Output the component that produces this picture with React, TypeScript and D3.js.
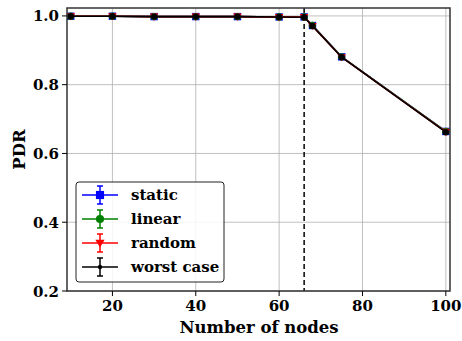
import React from "react";
import * as d3 from "d3";

const nodes = [10, 20, 30, 40, 50, 60, 66, 68, 75, 100];
const staticPdr = [0.999, 0.999, 0.998, 0.998, 0.998, 0.997, 0.997, 0.972, 0.881, 0.664];
const linearPdr = [0.999, 0.999, 0.998, 0.998, 0.998, 0.997, 0.997, 0.972, 0.881, 0.664];
const randomPdr = [0.999, 0.999, 0.998, 0.998, 0.998, 0.997, 0.997, 0.971, 0.880, 0.663];
const worstPdr = [0.999, 0.999, 0.998, 0.998, 0.998, 0.997, 0.996, 0.971, 0.880, 0.662];
const xTicks = [20, 40, 60, 80, 100];
const yTicks = [0.2, 0.4, 0.6, 0.8, 1.0];
const thresholdX = 66;
const seriesNames = ["static", "linear", "random", "worst case"];
const seriesColors = ["#0000ff", "#008000", "#ff0000", "#000000"];

const W = 462, H = 341;
const L = 67, R = 450, T = 8, B = 291;
const FONT = "'DejaVu Serif', serif";

export default function App() {
  const x = d3.scaleLinear().domain([9.1, 101]).range([L, R]);
  const y = d3.scaleLinear().domain([0.2, 1.023]).range([B, T]);
  const series = [staticPdr, linearPdr, randomPdr, worstPdr];
  const line = d3.line<number>().x((_, i) => x(nodes[i])).y((v) => y(v));

  const marker = (k: number, cx: number, cy: number, s = 1) => {
    const c = seriesColors[k];
    if (k === 0) return <rect x={cx - 3.7 * s} y={cy - 3.7 * s} width={7.4 * s} height={7.4 * s} fill={c} />;
    if (k === 1) return <circle cx={cx} cy={cy} r={3.7 * s} fill={c} />;
    if (k === 2) return <path d={`M${cx - 4.2 * s},${cy - 3 * s}L${cx + 4.2 * s},${cy - 3 * s}L${cx},${cy + 4.2 * s}Z`} fill={c} />;
    return <circle cx={cx} cy={cy} r={2 * s} fill={c} />;
  };

  return (
    <svg width={W} height={H} style={{ position: "absolute", left: 0, top: 0 }} fontFamily={FONT}>
      <rect width={W} height={H} fill="#fff" />
      {xTicks.map((t) => (
        <line key={"gx" + t} x1={x(t)} x2={x(t)} y1={T} y2={B} stroke="#b0b0b0" strokeWidth={0.8} />
      ))}
      {yTicks.map((t) => (
        <line key={"gy" + t} x1={L} x2={R} y1={y(t)} y2={y(t)} stroke="#b0b0b0" strokeWidth={0.8} />
      ))}
      <line x1={x(thresholdX)} x2={x(thresholdX)} y1={T} y2={B} stroke="#000" strokeWidth={1.5} strokeDasharray="5,3" />
      {series.map((s, k) => (
        <g key={k}>
          <path d={line(s) || ""} fill="none" stroke={seriesColors[k]} strokeWidth={1.6} />
          {s.map((v, i) => (
            <g key={i}>{marker(k, x(nodes[i]), y(v), k === 3 ? 1.6 : 1)}</g>
          ))}
        </g>
      ))}
      <rect x={L} y={T} width={R - L} height={B - T} fill="none" stroke="#333" strokeWidth={1.5} />
      {xTicks.map((t) => (
        <g key={"tx" + t}>
          <line x1={x(t)} x2={x(t)} y1={B} y2={B + 5} stroke="#000" strokeWidth={1} />
          <text x={x(t)} y={B + 20} textAnchor="middle" fontSize={15} fontWeight="bold">{t}</text>
        </g>
      ))}
      {yTicks.map((t) => (
        <g key={"ty" + t}>
          <line x1={L - 5} x2={L} y1={y(t)} y2={y(t)} stroke="#000" strokeWidth={1} />
          <text x={L - 8} y={y(t) + 5.5} textAnchor="end" fontSize={15} fontWeight="bold">{t.toFixed(1)}</text>
        </g>
      ))}
      <text x={259} y={333} textAnchor="middle" fontSize={16.5} fontWeight="bold">Number of nodes</text>
      <text transform={`translate(25,${(T + B) / 2}) rotate(-90)`} textAnchor="middle" fontSize={16.5} fontWeight="bold">PDR</text>
      <g>
        <rect x={76} y={182} width={148} height={100} rx={3} fill="#fff" fillOpacity={0.85} stroke="#222" strokeWidth={1} />
        {seriesNames.map((n, k) => {
          const cy = 195 + k * 24;
          const c = seriesColors[k];
          return (
            <g key={n}>
              <line x1={82} x2={118} y1={cy} y2={cy} stroke={c} strokeWidth={1.5} />
              <line x1={100} x2={100} y1={cy - 9} y2={cy + 9} stroke={c} strokeWidth={1.5} />
              <line x1={97} x2={103} y1={cy - 9} y2={cy - 9} stroke={c} strokeWidth={1.5} />
              <line x1={97} x2={103} y1={cy + 9} y2={cy + 9} stroke={c} strokeWidth={1.5} />
              {marker(k, 100, cy, 1.1)}
              <text x={131} y={cy + 5} fontSize={15} fontWeight="bold">{n}</text>
            </g>
          );
        })}
      </g>
    </svg>
  );
}
